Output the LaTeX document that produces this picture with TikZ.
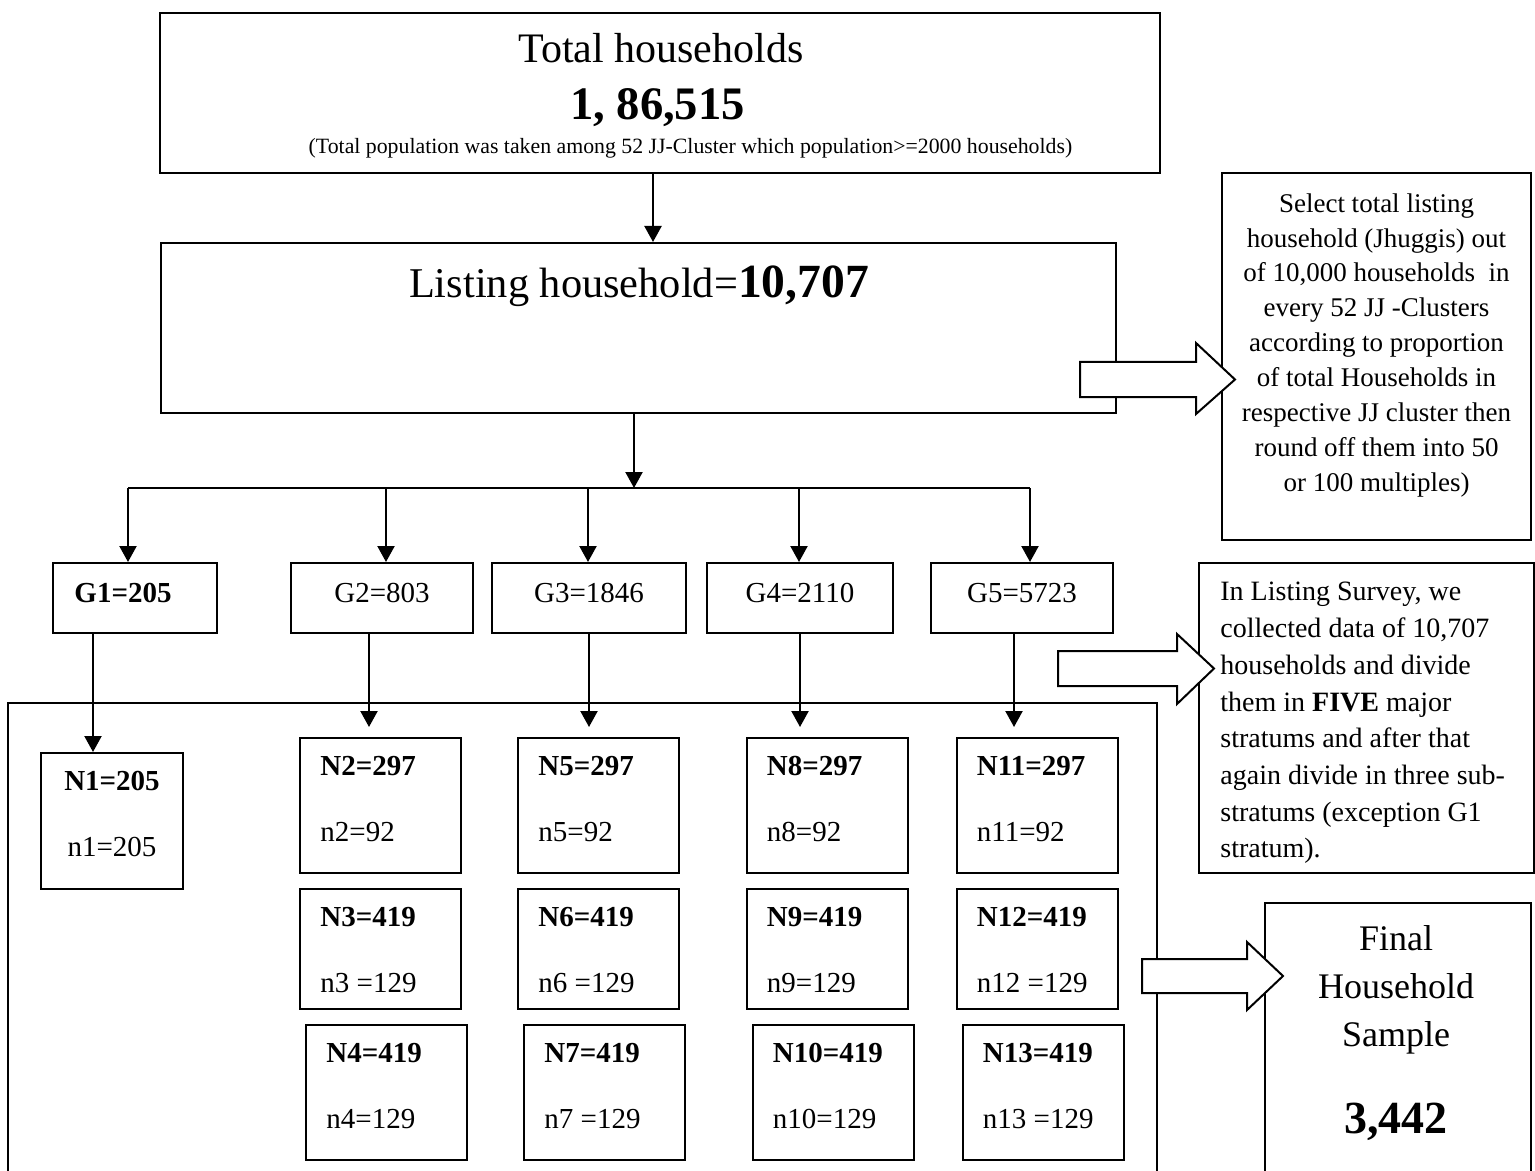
\documentclass[tikz,border=0pt]{standalone}
\usepackage{fontspec}
\setmainfont{Liberation Serif}
\usetikzlibrary{arrows.meta}
\tikzset{
  box/.style={draw, line width=1pt, inner sep=0pt},
  gbox/.style={box, minimum height=35pt, text height=10pt, text depth=6pt, font=\fontsize{14.5}{17}\selectfont},
  nbox/.style={box, minimum width=80.5pt},
  ntext/.style={inner sep=0pt, anchor=base west, font=\fontsize{14.5}{17}\selectfont},
  ctext/.style={inner sep=0pt, anchor=base},
  conn/.style={line width=1.1pt, -{Triangle[width=8.5pt,length=8pt]}},
  fatarrow/.style={draw, line width=1pt, fill=white, line join=miter}
}
\begin{document}
\begin{tikzpicture}[x=0.5pt,y=-0.5pt]
\useasboundingbox (0,0) rectangle (1535,1171);
% population and listing
\node[box, minimum width=500pt, minimum height=80pt] (total) at (660,93) {};
\node[ctext, font=\fontsize{21}{25}\selectfont] (totalA) at (661,63) {Total households};
\node[ctext, font=\fontsize{23.3}{27}\selectfont\bfseries] (totalB) at (657.5,120) {1, 86,515};
\node[ctext, font=\fontsize{10.9}{13}\selectfont] (totalC) at (690.5,154) {(Total population was taken among 52 JJ-Cluster which population>=2000 households)};
\node[box, minimum width=477.5pt, minimum height=85pt] (listing) at (638.5,328) {};
\node[ctext] (listingA) at (639,298) {\fontsize{21.2}{25}\selectfont Listing household=\fontsize{23.8}{28}\selectfont\bfseries 10,707};
% strata
\node[gbox, minimum width=82pt] (G1) at (135,598) {\textbf{G1=205}\hspace*{12pt}};
\node[gbox, minimum width=91pt] (G2) at (382,598) {G2=803};
\node[gbox, minimum width=97pt] (G3) at (589,598) {G3=1846};
\node[gbox, minimum width=93pt] (G4) at (800,598) {G4=2110};
\node[gbox, minimum width=91pt] (G5) at (1022,598) {G5=5723};
% sub-strata
\draw[line width=1pt] (8,1171) |- (1157,703) -- (1157,1171);
\node[box, minimum width=71pt, minimum height=68pt] (N1) at (112,821) {};
\node[ctext, font=\fontsize{14.5}{17}\selectfont\bfseries] (N1a) at ([yshift=-19pt]N1.north) {N1=205};
\node[ctext, font=\fontsize{14.5}{17}\selectfont] (N1b) at ([yshift=-52pt]N1.north) {n1=205};
\node[nbox, minimum height=67.5pt] (N2) at (380.5,805.5) {};
\node[nbox, minimum height=67.5pt] (N5) at (598.5,805.5) {};
\node[nbox, minimum height=67.5pt] (N8) at (827,805.5) {};
\node[nbox, minimum height=67.5pt] (N11) at (1037,805.5) {};
\node[nbox, minimum height=60pt] (N3) at (380.5,949) {};
\node[nbox, minimum height=60pt] (N6) at (598.5,949) {};
\node[nbox, minimum height=60pt] (N9) at (827,949) {};
\node[nbox, minimum height=60pt] (N12) at (1037,949) {};
\node[nbox, minimum height=67.5pt] (N4) at (386.5,1092.5) {};
\node[nbox, minimum height=67.5pt] (N7) at (604.5,1092.5) {};
\node[nbox, minimum height=67.5pt] (N10) at (833,1092.5) {};
\node[nbox, minimum height=67.5pt] (N13) at (1043,1092.5) {};
\node[ntext] (N2a) at ([xshift=10.5pt,yshift=-19pt]N2.north west) {\textbf{N2=297}};
\node[ntext] (N2b) at ([xshift=10.5pt,yshift=-52pt]N2.north west) {n2=92};
\node[ntext] (N5a) at ([xshift=10.5pt,yshift=-19pt]N5.north west) {\textbf{N5=297}};
\node[ntext] (N5b) at ([xshift=10.5pt,yshift=-52pt]N5.north west) {n5=92};
\node[ntext] (N8a) at ([xshift=10.5pt,yshift=-19pt]N8.north west) {\textbf{N8=297}};
\node[ntext] (N8b) at ([xshift=10.5pt,yshift=-52pt]N8.north west) {n8=92};
\node[ntext] (N11a) at ([xshift=10.5pt,yshift=-19pt]N11.north west) {\textbf{N11=297}};
\node[ntext] (N11b) at ([xshift=10.5pt,yshift=-52pt]N11.north west) {n11=92};
\node[ntext] (N3a) at ([xshift=10.5pt,yshift=-19pt]N3.north west) {\textbf{N3=419}};
\node[ntext] (N3b) at ([xshift=10.5pt,yshift=-52pt]N3.north west) {n3 =129};
\node[ntext] (N6a) at ([xshift=10.5pt,yshift=-19pt]N6.north west) {\textbf{N6=419}};
\node[ntext] (N6b) at ([xshift=10.5pt,yshift=-52pt]N6.north west) {n6 =129};
\node[ntext] (N9a) at ([xshift=10.5pt,yshift=-19pt]N9.north west) {\textbf{N9=419}};
\node[ntext] (N9b) at ([xshift=10.5pt,yshift=-52pt]N9.north west) {n9=129};
\node[ntext] (N12a) at ([xshift=10.5pt,yshift=-19pt]N12.north west) {\textbf{N12=419}};
\node[ntext] (N12b) at ([xshift=10.5pt,yshift=-52pt]N12.north west) {n12 =129};
\node[ntext] (N4a) at ([xshift=10.5pt,yshift=-19pt]N4.north west) {\textbf{N4=419}};
\node[ntext] (N4b) at ([xshift=10.5pt,yshift=-52pt]N4.north west) {n4=129};
\node[ntext] (N7a) at ([xshift=10.5pt,yshift=-19pt]N7.north west) {\textbf{N7=419}};
\node[ntext] (N7b) at ([xshift=10.5pt,yshift=-52pt]N7.north west) {n7 =129};
\node[ntext] (N10a) at ([xshift=10.5pt,yshift=-19pt]N10.north west) {\textbf{N10=419}};
\node[ntext] (N10b) at ([xshift=10.5pt,yshift=-52pt]N10.north west) {n10=129};
\node[ntext] (N13a) at ([xshift=10.5pt,yshift=-19pt]N13.north west) {\textbf{N13=419}};
\node[ntext] (N13b) at ([xshift=10.5pt,yshift=-52pt]N13.north west) {n13 =129};
% notes on the right
\node[box, minimum width=154.5pt, minimum height=183.5pt] (noteA) at (1376.5,356.5) {};
\node[inner sep=0pt, anchor=north, align=center, font=\fontsize{13.5}{17.45}\selectfont] (noteAt) at (1376.5,193) {Select total listing\\household (Jhuggis) out\\of 10,000 households~ in\\every 52 JJ -Clusters\\according to proportion\\of total Households in\\respective JJ cluster then\\round off them into 50\\or 100 multiples)};
\node[box, minimum width=167.5pt, minimum height=155pt] (noteB) at (1366.5,718) {};
\node[inner sep=0pt, anchor=north west, align=left, font=\fontsize{14}{18.35}\selectfont] (noteBt) at (1220,582) {In Listing Survey, we\\collected data of 10,707\\households and divide\\them in \textbf{FIVE} major\\stratums and after that\\again divide in three sub-\\stratums (exception G1\\stratum).};
\draw[line width=1pt] (1265,1171) |- (1531,903) -- (1531,1171);
\node[ctext, font=\fontsize{18}{22}\selectfont] (finalA) at (1396,950) {Final};
\node[ctext, font=\fontsize{18}{22}\selectfont] (finalB) at (1396,998) {Household};
\node[ctext, font=\fontsize{18}{22}\selectfont] (finalC) at (1396,1046) {Sample};
\node[ctext, font=\fontsize{23}{27}\selectfont\bfseries] (finalD) at (1396,1133) {3,442};
% connectors
\coordinate (hub) at (634,488);
\coordinate (b1) at (128,488);
\coordinate (b2) at (386,488);
\coordinate (b3) at (588,488);
\coordinate (b4) at (799,488);
\coordinate (b5) at (1030,488);
\draw[conn] ([xshift=-3.5pt]total.south) -- ([xshift=-3.5pt]total.south |- listing.north);
\draw[conn] (listing.south -| hub) -- (hub);
\draw[line width=1.1pt] (b1) -- (b5);
\draw[conn] (b1) -- (b1 |- G1.north);
\draw[conn] (b2) -- (b2 |- G2.north);
\draw[conn] (b3) -- (b3 |- G3.north);
\draw[conn] (b4) -- (b4 |- G4.north);
\draw[conn] (b5) -- (b5 |- G5.north);
\draw[conn] ([xshift=-21pt]G1.south) -- ([xshift=-21pt]G1.south |- N1.north);
\draw[conn, shorten >=5pt] ([xshift=-6.5pt]G2.south) -- ([xshift=-6.5pt]G2.south |- N2.north);
\draw[conn, shorten >=5pt] (G3.south) -- (G3.south |- N5.north);
\draw[conn, shorten >=5pt] (G4.south) -- (G4.south |- N8.north);
\draw[conn, shorten >=5pt] ([xshift=-4pt]G5.south) -- ([xshift=-4pt]G5.south |- N11.north);
% block arrows
\draw[fatarrow] (1080,362) -- (1196,362) -- (1196,343) -- (1235,379.5) -- (1196,414) -- (1196,397) -- (1080,397) -- cycle;
\draw[fatarrow] (1058,651) -- (1177,651) -- (1177,634) -- (1214,668.5) -- (1177,704) -- (1177,686) -- (1058,686) -- cycle;
\draw[fatarrow] (1142,959) -- (1247,959) -- (1247,942) -- (1283,976) -- (1247,1010) -- (1247,993) -- (1142,993) -- cycle;
\end{tikzpicture}
\end{document}
